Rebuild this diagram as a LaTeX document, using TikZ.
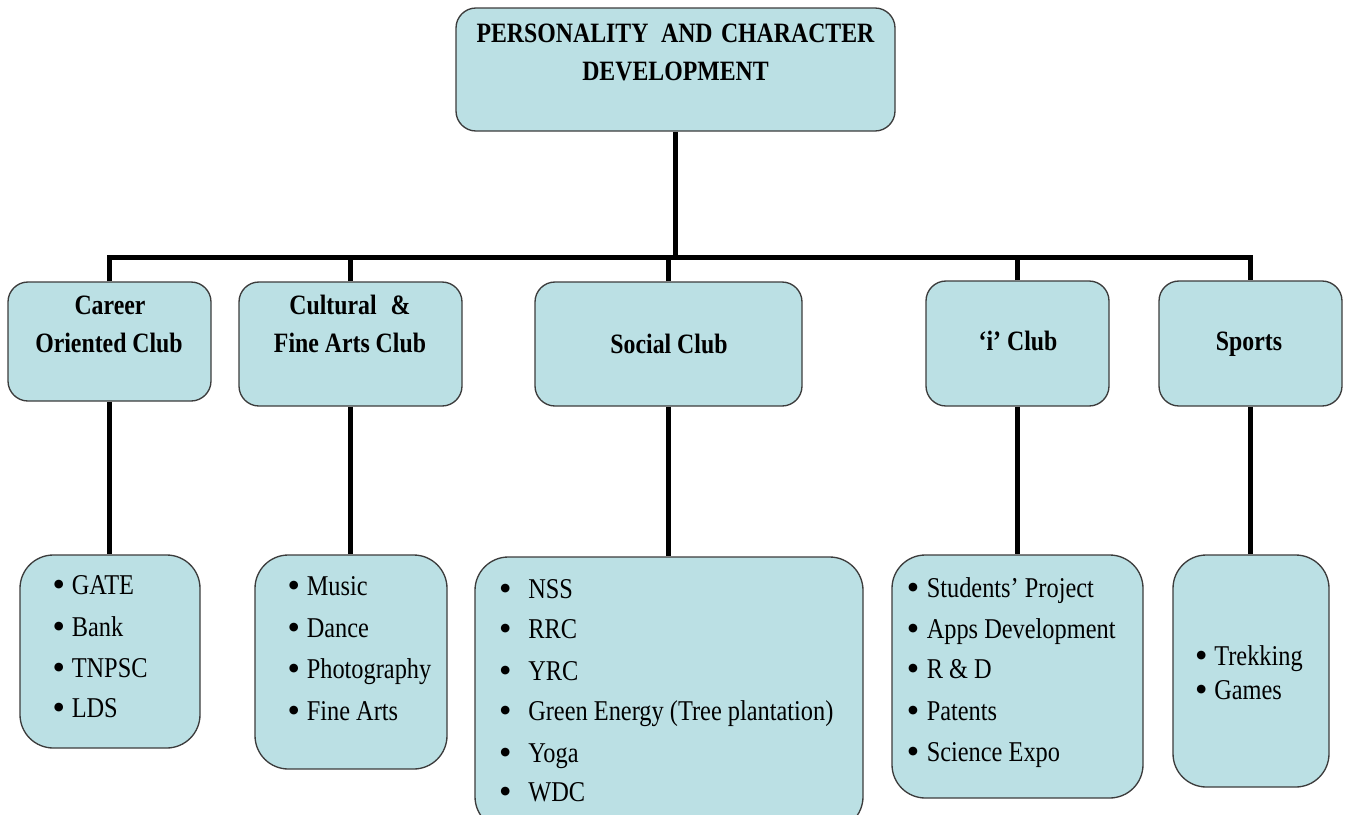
\documentclass[tikz,border=0pt]{standalone}
\usepackage{fontspec}
\setmainfont{Liberation Serif}[FakeStretch=0.85]
\newfontfamily\bulfont{DejaVu Sans}
\usetikzlibrary{fit}
\definecolor{boxfill}{RGB}{187,224,228}
\definecolor{boxline}{RGB}{60,60,60}
\newcommand\bigbul{\raisebox{4.6pt}{\bulfont\fontsize{8.5}{8.5}\selectfont ●}}
\newcommand\itm[2]{\makebox[0pt][r]{\bigbul\hspace{#1}}#2}
\begin{document}
\begin{tikzpicture}[x=0.75pt,y=-0.75pt,
  box/.style={draw=boxline, line width=1pt, fill=boxfill, inner sep=0pt, rounded corners=15pt},
  listbox/.style={box, rounded corners=25pt},
  head/.style={font=\fontsize{21}{25}\selectfont\bfseries, inner sep=0pt, anchor=base},
  item/.style={font=\fontsize{21.5}{25}\selectfont, inner sep=0pt, anchor=base west},
  conn/.style={line width=3.6pt, black}]
\useasboundingbox (0,0) rectangle (1348,814);
\clip (0,0) rectangle (1348,814);
% top
\node[box, fit={(456,8) (895,131)}] (top) {};
\node[head] (t1) at (675.5,42) {PERSONALITY\hspace{0.45em}AND\hspace{0.3em}CHARACTER};
\node[head] (t2) at (675.5,80) {DEVELOPMENT};
% level 2
\node[box, fit={(8,282) (211,401)}] (career) {};
\node[box, fit={(239,282) (462,406)}] (cultural) {};
\node[box, fit={(535,282) (802,406)}] (social) {};
\node[box, fit={(926,281) (1109,406)}] (iclub) {};
\node[box, fit={(1159,281) (1342,406)}] (sports) {};
\node[head] (ca1) at (110,314) {Career};
\node[head] (ca2) at (109,352) {Oriented Club};
\node[head] (cu1) at (350,314) {Cultural\hspace{0.5em}\&};
\node[head] (cu2) at (350,352) {Fine Arts Club};
\node[head] (so1) at (669,353) {Social Club};
\node[head] (ic1) at (1018,350) {‘i’ Club};
\node[head] (sp1) at (1249,350) {Sports};
% level 3
\node[listbox, fit={(20,555) (200,748)}] (clist) {};
\node[listbox, fit={(255,555) (447,769)}] (flist) {};
\node[listbox, fit={(475,557) (863,830)}] (slist) {};
\node[listbox, fit={(892,555) (1143,798)}] (ilist) {};
\node[listbox, fit={(1173,555) (1329,787)}] (plist) {};
% career items
\node[item] (c1) at (71.5,594) {\itm{6pt}{GATE}};
\node[item] (c2) at (71.5,636) {\itm{6pt}{Bank}};
\node[item] (c3) at (71.5,677) {\itm{6pt}{TNPSC}};
\node[item] (c4) at (71.5,717) {\itm{6pt}{LDS}};
% cultural items
\node[item] (f1) at (306.5,595) {\itm{6pt}{Music}};
\node[item] (f2) at (306.5,637) {\itm{6pt}{Dance}};
\node[item] (f3) at (306.5,678) {\itm{6pt}{Photography}};
\node[item] (f4) at (306.5,720) {\itm{6pt}{Fine Arts}};
% social items
\node[item] (s1) at (528,598) {\itm{13.5pt}{NSS}};
\node[item] (s2) at (528,638) {\itm{13.5pt}{RRC}};
\node[item] (s3) at (528,680) {\itm{13.5pt}{YRC}};
\node[item] (s4) at (528,720) {\itm{13.5pt}{Green Energy (Tree plantation)}};
\node[item] (s5) at (528,762) {\itm{13.5pt}{Yoga}};
\node[item] (s6) at (528,801) {\itm{13.5pt}{WDC}};
% i club items
\node[item] (i1) at (926.5,597) {\itm{6.5pt}{Students’ Project}};
\node[item] (i2) at (926.5,638) {\itm{6.5pt}{Apps Development}};
\node[item] (i3) at (926.5,678) {\itm{6.5pt}{R \& D}};
\node[item] (i4) at (926.5,720) {\itm{6.5pt}{Patents}};
\node[item] (i5) at (926.5,761) {\itm{6.5pt}{Science Expo}};
% sports items
\node[item] (p1) at (1214,665) {\itm{6pt}{Trekking}};
\node[item] (p2) at (1214,699) {\itm{6pt}{Games}};
% connectors
\coordinate (bar) at (675.5,257.5);
\draw[conn] (top.south) -- (bar);
\draw[conn] (career.north) -- (career.north |- bar) -- (sports.north |- bar) -- (sports.north);
\draw[conn] (cultural.north) -- (cultural.north |- bar);
\draw[conn] (social.north) -- (social.north |- bar);
\draw[conn] (iclub.north) -- (iclub.north |- bar);
\draw[conn] (career.south) -- (career.south |- clist.north);
\draw[conn] (cultural.south) -- (cultural.south |- flist.north);
\draw[conn] (social.south) -- (social.south |- slist.north);
\draw[conn] (iclub.south) -- (iclub.south |- ilist.north);
\draw[conn] (sports.south) -- (sports.south |- plist.north);
\end{tikzpicture}
\end{document}
